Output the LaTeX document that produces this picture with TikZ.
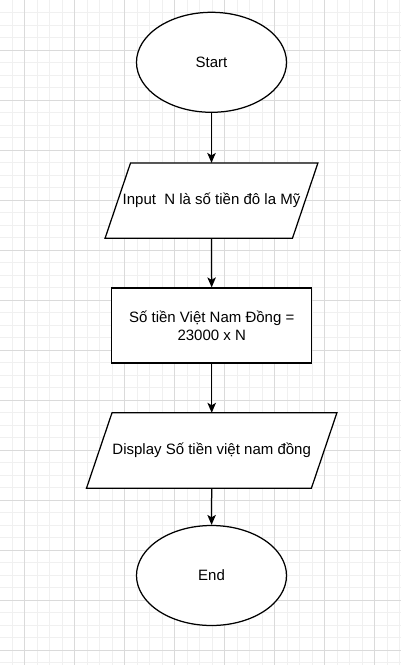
\documentclass[tikz,border=0pt]{standalone}
\usepackage{fontspec}
\setmainfont{Liberation Sans}
\usetikzlibrary{shapes.geometric,arrows.meta}
\definecolor{gridminor}{HTML}{F0F0F0}
\definecolor{gridmajor}{HTML}{DADADA}
\tikzset{
  minorline/.style={draw=gridminor,line width=0.8pt},
  majorline/.style={draw=gridmajor,line width=0.8pt},
  term/.style={ellipse,draw=black,line width=1.25pt,fill=white,minimum width=150pt,minimum height=100pt,inner sep=0pt,font=\fontsize{15}{18}\selectfont},
  procbox/.style={rectangle,draw=black,line width=1.25pt,fill=white,minimum width=200pt,minimum height=75pt,inner sep=0pt,align=center,font=\fontsize{15}{18}\selectfont},
  iobox/.style={rectangle,draw=none,minimum height=75pt,inner sep=0pt,font=\fontsize{15}{18}\selectfont},
  iofill/.style={draw=black,line width=1.25pt,fill=white,line join=miter},
  arr/.style={draw=black,line width=1.25pt,-{Stealth[length=10pt,width=8.5pt,inset=2.5pt]}}
}
\begin{document}
\begin{tikzpicture}[x=1pt,y=-1pt]
\useasboundingbox (0,0) rectangle (401,665);
\fill[white] (0,0) rectangle (401,665);
% grid
\foreach \i in {0,...,31} { \draw[minorline] ({12+12.5*\i},0) -- ({12+12.5*\i},665); }
\foreach \j in {1,...,53} { \draw[minorline] (0,{12.5*\j}) -- (401,{12.5*\j}); }
\foreach \i in {0,...,7} { \draw[majorline] ({24.5+50*\i},0) -- ({24.5+50*\i},665); }
\foreach \j in {1,...,13} { \draw[majorline] (0,{50*\j}) -- (401,{50*\j}); }
% nodes
\node[term] (start) at (211.5,62.3) {Start};
\node[iobox,minimum width=212.5pt] (inp) at (211.5,200.6) {};
\fill[white] ([xshift=25.5pt]inp.north west) -- (inp.north east) -- ([xshift=-25.5pt]inp.south east) -- (inp.south west) -- cycle;
\draw[iofill] ([xshift=25.5pt]inp.north west) -- (inp.north east) -- ([xshift=-25.5pt]inp.south east) -- (inp.south west) -- cycle;
\node[font=\fontsize{15}{18}\selectfont] at (inp.center) {Input\ \ N là số tiền đô la Mỹ};
\node[procbox] (calc) at (211.7,325.5) {Số tiền Việt Nam Đồng =\\23000 x N};
\node[iobox,minimum width=250pt] (disp) at (211.7,450.5) {};
\draw[iofill] ([xshift=25.5pt]disp.north west) -- (disp.north east) -- ([xshift=-25.5pt]disp.south east) -- (disp.south west) -- cycle;
\node[font=\fontsize{15}{18}\selectfont] at (disp.center) {Display Số tiền việt nam đồng};
\node[term] (end) at (211.5,575.5) {End};
% connectors
\draw[arr] (start) -- (inp);
\draw[arr] (inp) -- (calc);
\draw[arr] (calc) -- (disp);
\draw[arr] (disp) -- (end);
\end{tikzpicture}
\end{document}
